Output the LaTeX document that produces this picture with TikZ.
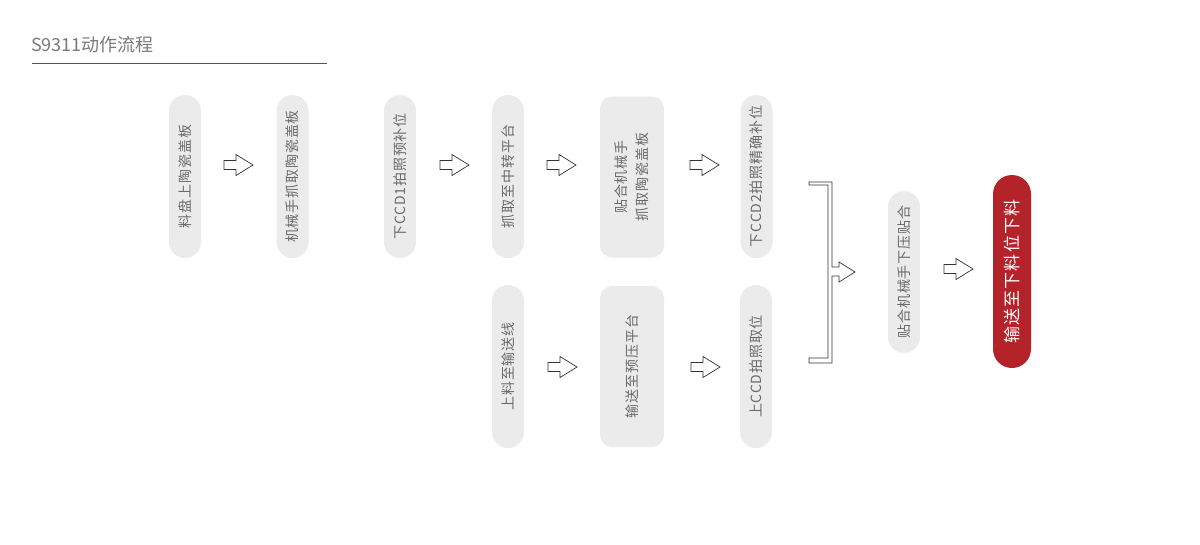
\documentclass[tikz,border=0pt]{standalone}
\usepackage{fontspec}
\setmainfont{Noto Sans CJK SC}
\newfontfamily\cjk[LetterSpace=6]{Noto Sans CJK SC}
\definecolor{pillgray}{HTML}{EBEBEB}
\definecolor{txtgray}{HTML}{6A6A6A}
\definecolor{titlegray}{HTML}{7A7A7A}
\definecolor{linegray}{HTML}{555555}
\definecolor{accent}{HTML}{B5232A}
\begin{document}
\begin{tikzpicture}[x=1pt,y=1pt,
  pill/.style={fill=pillgray, rounded corners=16pt, minimum width=163pt, minimum height=32pt,
    inner sep=0pt, rotate=90, text=txtgray, font=\cjk\fontsize{14}{21}\selectfont},
  wide/.style={pill, rounded corners=12pt, minimum width=161pt, minimum height=64pt, align=center},
  final/.style={pill, fill=accent, text=white, rounded corners=19pt, minimum width=193pt,
    minimum height=38pt, font=\cjk\fontsize{17}{21}\selectfont},
  blockarrow/.style={draw=black!80, line width=0.7pt, fill=white, line join=miter},
  barrow/.pic={\draw[blockarrow] (0,4.5) -- (12,4.5) -- (12,10.5) -- (29,0) -- (12,-10.5) -- (12,-4.5) -- (0,-4.5) -- cycle;}]
\fill[white] (0,0) rectangle (1200,-544);
\useasboundingbox (0,0) rectangle (1200,-544);
% title
\node[anchor=west, inner sep=0pt, text=titlegray, font=\fontsize{18}{20}\selectfont] (title) at (31,-45) {S9311动作流程};
\coordinate (ulA) at (32,-63.5);
\coordinate (ulB) at (327,-63.5);
\draw[linegray, line width=1pt] (ulA) -- (ulB);
% top row
\node[pill] (n1) at (185,-176.5) {料盘上陶瓷盖板};
\node[pill] (n2) at (292.5,-176.5) {机械手抓取陶瓷盖板};
\node[pill] (n3) at (400,-176.5) {下CCD1拍照预补位};
\node[pill] (n4) at (508,-176.5) {抓取至中转平台};
\node[wide] (n5) at (632,-177) {贴合机械手\\抓取陶瓷盖板};
\node[pill] (n6) at (756.5,-176.5) {下CCD2拍照精确补位};
% bottom row
\node[pill] (n7) at (508,-366.5) {上料至输送线};
\node[wide] (n8) at (632,-366.5) {输送至预压平台};
\node[pill] (n9) at (756,-366.5) {上CCD拍照取位};
% merge
\node[pill, minimum width=162pt] (n10) at (904,-272) {贴合机械手下压贴合};
\node[final] (n11) at (1012,-271.5) {输送至下料位下料};
% block arrows
\pic at (224,-165) {barrow};
\pic at (440,-165) {barrow};
\pic at (547,-165) {barrow};
\pic at (690,-165) {barrow};
\pic at (548,-367) {barrow};
\pic at (691,-367) {barrow};
\pic at (944,-269) {barrow};
% bracket
\draw[blockarrow] (809,-182) -- (832,-182) -- (832,-267) -- (839,-267) -- (839,-262) -- (855,-272)
  -- (839,-282) -- (839,-276) -- (832,-276) -- (832,-363) -- (809,-363) -- (809,-358)
  -- (828,-358) -- (828,-185) -- (809,-185) -- cycle;
\end{tikzpicture}
\end{document}
